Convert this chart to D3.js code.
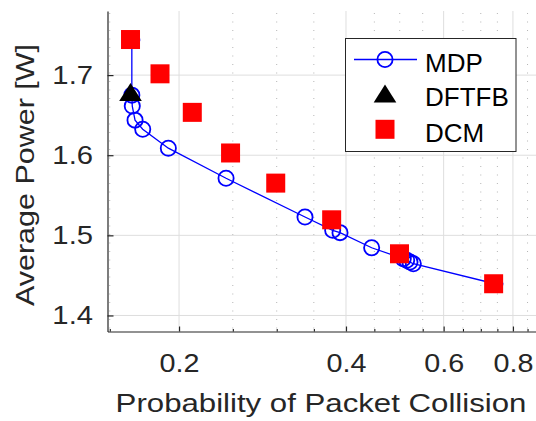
<!DOCTYPE html>
<html>
<head>
<meta charset="utf-8">
<script src="https://cdn.jsdelivr.net/npm/d3@7"></script>
<style>
  body { margin: 0; background: #fff; }
  svg { display: block; font-family: "Liberation Sans", Arial, sans-serif; }
</style>
</head>
<body>
<div id="chart"></div>
<script>
// data
var mdpP = [0.1644, 0.1644, 0.1647, 0.1666, 0.1720, 0.1913, 0.2431, 0.3374, 0.3785, 0.3902, 0.4450, 0.5074, 0.5146, 0.5217, 0.5290, 0.7424];
var mdpV = [1.7438, 1.6750, 1.6613, 1.6438, 1.6325, 1.6088, 1.5713, 1.5229, 1.5063, 1.5034, 1.4845, 1.4709, 1.4688, 1.4666, 1.4646, 1.4396];

var dftfbP = [0.1635];
var dftfbV = [1.679];

var dcmP = [0.1635, 0.1848, 0.2113, 0.2477, 0.2988, 0.3769, 0.4995, 0.7384];
var dcmV = [1.7444, 1.7016, 1.6535, 1.6028, 1.5652, 1.5194, 1.4770, 1.4396];

var seriesNames = ["MDP", "DFTFB", "DCM"];

var xTicks = [0.2, 0.4, 0.6, 0.8];
var xMinorTicks = [0.15, 0.25, 0.3, 0.35, 0.45, 0.5, 0.55, 0.65, 0.7, 0.75, 0.85];
var yTicks = [1.4, 1.5, 1.6, 1.7];

var W = 536, H = 421;
var margin = {top: 11, left: 107.5, bottom: 89.5};
var plotBottom = H - margin.bottom;

var x = d3.scaleLog()
    .domain([0.1486, 0.9])
    .range([margin.left, 541.3]);
var y = d3.scaleLinear()
    .domain([1.38, 1.78])
    .range([plotBottom, margin.top]);

var axisColor = "#262626";
var blue = "#0000ff";

var svg = d3.select("#chart").append("svg")
    .attr("width", W)
    .attr("height", H);

// grid: minor dotted verticals
svg.append("g").selectAll("line")
  .data(xMinorTicks)
  .enter().append("line")
    .attr("x1", function(d) { return x(d); })
    .attr("x2", function(d) { return x(d); })
    .attr("y1", margin.top + 2)
    .attr("y2", plotBottom)
    .attr("stroke", "#b5b5b5")
    .attr("stroke-width", 1)
    .attr("stroke-dasharray", "1,7.5");

// grid: major solid lines
svg.append("g").selectAll("line")
  .data(xTicks)
  .enter().append("line")
    .attr("x1", function(d) { return x(d); })
    .attr("x2", function(d) { return x(d); })
    .attr("y1", margin.top)
    .attr("y2", plotBottom)
    .attr("stroke", "#dedede")
    .attr("stroke-width", 1);

svg.append("g").selectAll("line")
  .data(yTicks)
  .enter().append("line")
    .attr("x1", margin.left)
    .attr("x2", W)
    .attr("y1", function(d) { return y(d); })
    .attr("y2", function(d) { return y(d); })
    .attr("stroke", "#dedede")
    .attr("stroke-width", 1);

// x axis (ticks point inward)
var gx = svg.append("g")
    .attr("transform", "translate(0," + plotBottom + ")")
    .call(d3.axisBottom(x).tickValues(xTicks).tickFormat(d3.format(".1f"))
      .tickSizeInner(-5).tickSizeOuter(0));
gx.selectAll("text")
    .attr("y", 40.5)
    .attr("dy", 0)
    .attr("transform", "scale(1.15,1)")
    .style("font-size", "25px")
    .style("fill", axisColor);

svg.append("g")
    .attr("transform", "translate(0," + plotBottom + ")")
    .call(d3.axisBottom(x).tickValues(xMinorTicks).tickFormat("")
      .tickSizeInner(-2.5).tickSizeOuter(0))
  .select(".domain").remove();

// y axis
var gy = svg.append("g")
    .attr("transform", "translate(" + margin.left + ",0)")
    .call(d3.axisLeft(y).tickValues(yTicks).tickFormat(d3.format(".1f"))
      .tickSizeInner(-6).tickSizeOuter(0));
gy.selectAll("text")
    .attr("x", -14.5 / 1.17)
    .attr("dy", "0.34em")
    .attr("transform", "scale(1.17,1)")
    .style("font-size", "25px")
    .style("fill", axisColor);

[gx, gy].forEach(function(g) {
  g.selectAll(".domain, .tick line").attr("stroke", axisColor).attr("stroke-width", 1.2);
});

// axis titles
svg.append("text")
    .attr("transform", "translate(321,412) scale(1.2,1)")
    .attr("text-anchor", "middle")
    .style("font-size", "26px")
    .style("fill", axisColor)
    .text("Probability of Packet Collision");

svg.append("text")
    .attr("transform", "translate(34,175) rotate(-90) scale(1.22,1)")
    .attr("text-anchor", "middle")
    .style("font-size", "25px")
    .style("fill", axisColor)
    .text("Average Power [W]");

// MDP line + circles
var mdp = mdpP.map(function(p, i) { return {p: p, v: mdpV[i]}; });
var line = d3.line()
    .x(function(d) { return x(d.p); })
    .y(function(d) { return y(d.v); });

svg.append("path")
    .datum(mdp)
    .attr("d", line)
    .attr("fill", "none")
    .attr("stroke", blue)
    .attr("stroke-width", 1.3);

svg.selectAll("mdpcircle")
  .data(mdp)
  .enter().append("circle")
    .attr("cx", function(d) { return x(d.p); })
    .attr("cy", function(d) { return y(d.v); })
    .attr("r", 7.6)
    .attr("fill", "none")
    .attr("stroke", blue)
    .attr("stroke-width", 1.8);

// DFTFB triangle
var tri = "M0,-9L11.3,9L-11.3,9Z";
svg.selectAll("dftfb")
  .data(dftfbP)
  .enter().append("path")
    .attr("d", tri)
    .attr("transform", function(d, i) { return "translate(" + x(d) + "," + y(dftfbV[i]) + ")"; })
    .attr("fill", "#000");

// DCM squares
var sq = 19;
svg.selectAll("dcm")
  .data(dcmP)
  .enter().append("rect")
    .attr("x", function(d) { return x(d) - sq / 2; })
    .attr("y", function(d, i) { return y(dcmV[i]) - sq / 2; })
    .attr("width", sq)
    .attr("height", sq)
    .attr("fill", "#ff0000");

// legend
var lg = svg.append("g");
lg.append("rect")
    .attr("x", 345.5).attr("y", 38.5)
    .attr("width", 170.5).attr("height", 113)
    .attr("fill", "#fff")
    .attr("stroke", axisColor)
    .attr("stroke-width", 1);

var rowY = [59.5, 93.5, 129.3];
lg.append("line")
    .attr("x1", 354).attr("x2", 417)
    .attr("y1", rowY[0]).attr("y2", rowY[0])
    .attr("stroke", blue).attr("stroke-width", 1.3);
lg.append("circle")
    .attr("cx", 385).attr("cy", rowY[0]).attr("r", 7.6)
    .attr("fill", "none").attr("stroke", blue).attr("stroke-width", 1.8);
lg.append("path")
    .attr("d", tri)
    .attr("transform", "translate(385," + rowY[1] + ")")
    .attr("fill", "#000");
lg.append("rect")
    .attr("x", 385 - sq / 2).attr("y", rowY[2] - sq / 2)
    .attr("width", sq).attr("height", sq)
    .attr("fill", "#ff0000");

lg.selectAll("lgtext")
  .data(seriesNames)
  .enter().append("text")
    .attr("x", 425)
    .attr("y", function(d, i) { return rowY[i] + 12.3; })
    .style("font-size", "26px")
    .style("fill", "#000")
    .text(function(d) { return d; });
</script>
</body>
</html>
